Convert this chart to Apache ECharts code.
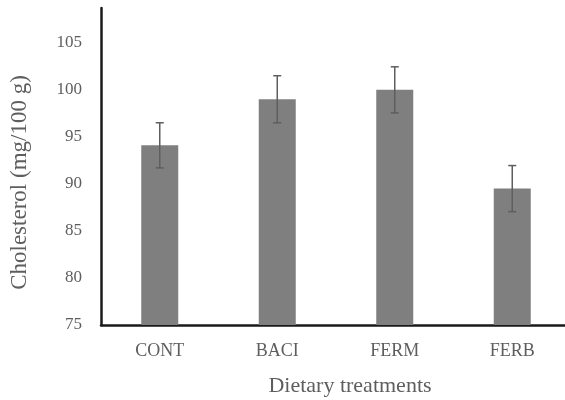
<!DOCTYPE html>
<html>
<head>
<meta charset="utf-8">
<script src="https://cdn.jsdelivr.net/npm/echarts@6/dist/echarts.min.js"></script>
<style>
html,body{margin:0;padding:0;background:#fff;}
#chart{width:565px;height:400px;}
</style>
</head>
<body>
<div id="chart"></div>
<script>
const categories = ['CONT', 'BACI', 'FERM', 'FERB'];
const means = [94.1, 99.0, 100.0, 89.5];
const errors = [2.4, 2.5, 2.45, 2.45];
const yTicks = [75, 80, 85, 90, 95, 100, 105];

const chart = echarts.init(document.getElementById('chart'), null, {renderer: 'canvas'});
const font = '"Liberation Serif", "DejaVu Serif", serif';
const option = {
  animation: false,
  backgroundColor: '#ffffff',
  grid: {left: 101, width: 470, top: 8, height: 317, outerBoundsMode: 'none', containLabel: false},
  xAxis: {
    type: 'category',
    data: categories,
    axisLine: {lineStyle: {color: '#1a1a1a', width: 2.5}},
    axisTick: {show: false},
    axisLabel: {color: '#5e5e5e', fontFamily: font, fontSize: 18, margin: 17},
    name: 'Dietary treatments',
    nameLocation: 'middle',
    nameGap: 50,
    nameTextStyle: {color: '#5e5e5e', fontFamily: font, fontSize: 22, padding: [0, 0, 0, 28]}
  },
  yAxis: {
    type: 'value',
    min: yTicks[0],
    max: 108.7,
    interval: 5,
    axisLine: {show: true, lineStyle: {color: '#1a1a1a', width: 2.5}},
    axisTick: {show: false},
    splitLine: {show: false},
    axisLabel: {color: '#5e5e5e', fontFamily: font, fontSize: 17, margin: 19, showMaxLabel: false,
      formatter: v => yTicks.includes(v) ? String(v) : ''},
    name: 'Cholesterol (mg/100 g)',
    nameLocation: 'middle',
    nameGap: 70,
    nameTextStyle: {color: '#5e5e5e', fontFamily: font, fontSize: 23, padding: [0, 32, 0, 0]}
  },
  series: [
    {
      type: 'bar',
      data: means,
      barWidth: 37,
      itemStyle: {color: '#7f7f7f'},
      z: 2
    },
    {
      type: 'custom',
      z: 3,
      data: means.map((m, i) => [i, m - errors[i], m + errors[i]]),
      renderItem: function (params, api) {
        const lo = api.coord([api.value(0), api.value(1)]);
        const hi = api.coord([api.value(0), api.value(2)]);
        const x = lo[0];
        const cap = 4;
        const style = {stroke: '#5e5e5e', lineWidth: 1.5};
        return {
          type: 'group',
          children: [
            {type: 'line', shape: {x1: x, y1: lo[1], x2: x, y2: hi[1]}, style: style},
            {type: 'line', shape: {x1: x - cap, y1: hi[1], x2: x + cap, y2: hi[1]}, style: style},
            {type: 'line', shape: {x1: x - cap, y1: lo[1], x2: x + cap, y2: lo[1]}, style: style}
          ]
        };
      }
    }
  ]
};
chart.setOption(option);
</script>
</body>
</html>
